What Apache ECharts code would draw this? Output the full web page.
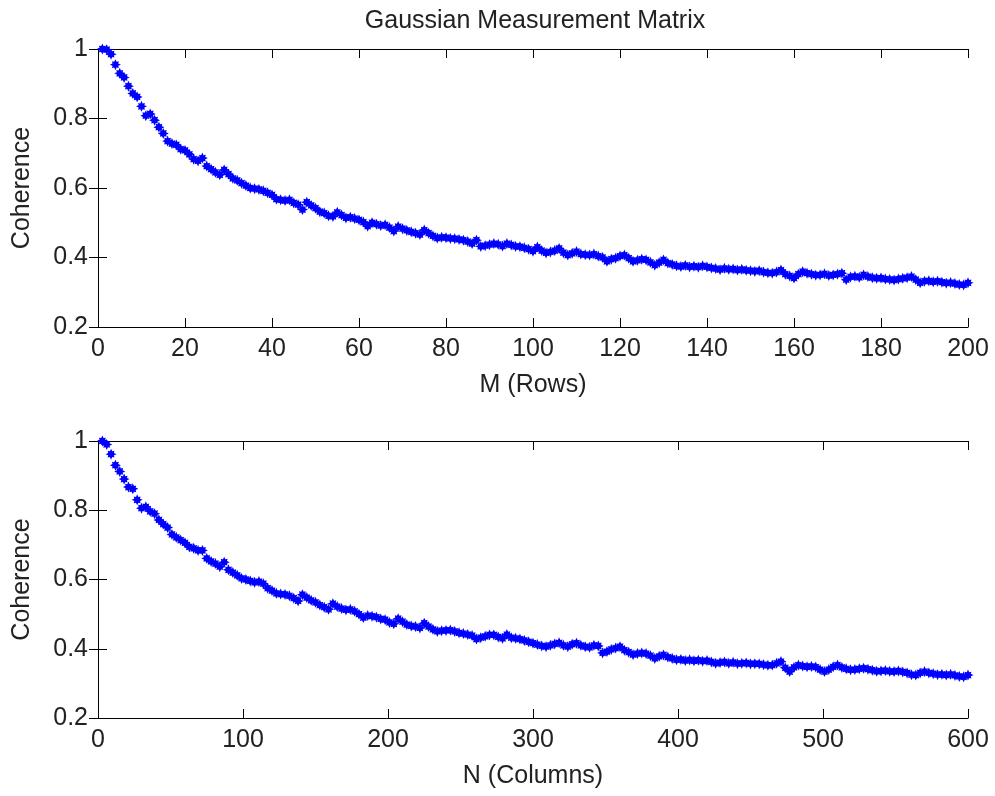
<!DOCTYPE html>
<html>
<head>
<meta charset="utf-8">
<title>Gaussian Measurement Matrix</title>
<script src="https://cdn.jsdelivr.net/npm/echarts@6/dist/echarts.min.js"></script>
<style>
  html, body { margin: 0; padding: 0; background: #fff; }
  #chart { width: 995px; height: 796px; }
</style>
</head>
<body>
<div id="chart"></div>
<script>
// Coherence of a Gaussian measurement matrix versus number of rows (M = 1..200)
const rowsM = Array.from({ length: 200 }, (_, i) => i + 1);
const coherenceRows = [
  1.000, 0.998, 0.985, 0.955, 0.930, 0.918, 0.893, 0.872, 0.862, 0.835,
  0.808, 0.813, 0.795, 0.775, 0.757, 0.735, 0.728, 0.724, 0.712, 0.708,
  0.697, 0.683, 0.678, 0.686, 0.663, 0.654, 0.645, 0.638, 0.652, 0.640,
  0.628, 0.622, 0.614, 0.607, 0.600, 0.598, 0.596, 0.592, 0.586, 0.580,
  0.568, 0.566, 0.564, 0.566, 0.557, 0.552, 0.538, 0.559, 0.550, 0.542,
  0.532, 0.528, 0.520, 0.518, 0.530, 0.522, 0.514, 0.516, 0.512, 0.508,
  0.502, 0.490, 0.500, 0.496, 0.492, 0.494, 0.486, 0.476, 0.489, 0.483,
  0.478, 0.474, 0.470, 0.466, 0.479, 0.470, 0.462, 0.456, 0.458, 0.457,
  0.455, 0.454, 0.452, 0.450, 0.446, 0.440, 0.450, 0.432, 0.434, 0.437,
  0.440, 0.438, 0.433, 0.440, 0.436, 0.432, 0.431, 0.428, 0.424, 0.418,
  0.430, 0.420, 0.413, 0.416, 0.420, 0.426, 0.414, 0.407, 0.412, 0.417,
  0.410, 0.408, 0.407, 0.410, 0.404, 0.400, 0.389, 0.395, 0.398, 0.404,
  0.407, 0.398, 0.389, 0.392, 0.395, 0.393, 0.386, 0.378, 0.385, 0.393,
  0.384, 0.380, 0.376, 0.374, 0.377, 0.373, 0.375, 0.372, 0.376, 0.373,
  0.370, 0.368, 0.365, 0.369, 0.366, 0.367, 0.364, 0.366, 0.363, 0.362,
  0.360, 0.362, 0.358, 0.356, 0.355, 0.358, 0.364, 0.352, 0.347, 0.341,
  0.352, 0.359, 0.355, 0.352, 0.349, 0.350, 0.353, 0.348, 0.350, 0.352,
  0.355, 0.336, 0.344, 0.346, 0.343, 0.350, 0.345, 0.342, 0.340, 0.341,
  0.338, 0.337, 0.335, 0.338, 0.340, 0.342, 0.345, 0.336, 0.327, 0.332,
  0.333, 0.330, 0.332, 0.329, 0.326, 0.328, 0.325, 0.322, 0.321, 0.327
];

// Coherence versus number of columns (N = 3, 6, ..., 600)
const columnsN = Array.from({ length: 200 }, (_, i) => (i + 1) * 3);
const coherenceColumns = [
  1.000, 0.990, 0.962, 0.930, 0.912, 0.890, 0.867, 0.862, 0.830, 0.806,
  0.810, 0.797, 0.790, 0.772, 0.760, 0.750, 0.730, 0.722, 0.714, 0.706,
  0.694, 0.690, 0.684, 0.684, 0.661, 0.652, 0.646, 0.637, 0.650, 0.628,
  0.620, 0.612, 0.603, 0.600, 0.596, 0.592, 0.594, 0.588, 0.575, 0.568,
  0.560, 0.558, 0.557, 0.553, 0.546, 0.538, 0.556, 0.548, 0.540, 0.534,
  0.526, 0.520, 0.514, 0.530, 0.522, 0.516, 0.512, 0.514, 0.508, 0.500,
  0.490, 0.496, 0.494, 0.491, 0.486, 0.484, 0.476, 0.472, 0.487, 0.478,
  0.470, 0.466, 0.464, 0.460, 0.474, 0.464, 0.456, 0.450, 0.452, 0.453,
  0.454, 0.450, 0.446, 0.444, 0.441, 0.438, 0.428, 0.432, 0.436, 0.440,
  0.440, 0.434, 0.430, 0.441, 0.432, 0.430, 0.428, 0.424, 0.420, 0.416,
  0.412, 0.408, 0.406, 0.410, 0.414, 0.417, 0.410, 0.406, 0.413, 0.416,
  0.410, 0.406, 0.404, 0.410, 0.408, 0.388, 0.392, 0.398, 0.402, 0.406,
  0.396, 0.390, 0.383, 0.386, 0.388, 0.386, 0.380, 0.372, 0.378, 0.382,
  0.376, 0.372, 0.368, 0.369, 0.366, 0.368, 0.365, 0.367, 0.364, 0.366,
  0.362, 0.358, 0.360, 0.362, 0.358, 0.361, 0.357, 0.358, 0.359, 0.356,
  0.357, 0.356, 0.354, 0.352, 0.353, 0.358, 0.363, 0.345, 0.334, 0.346,
  0.353, 0.350, 0.348, 0.349, 0.347, 0.340, 0.334, 0.340, 0.348, 0.353,
  0.346, 0.342, 0.339, 0.340, 0.342, 0.344, 0.341, 0.338, 0.335, 0.336,
  0.337, 0.335, 0.334, 0.336, 0.333, 0.330, 0.325, 0.324, 0.330, 0.334,
  0.330, 0.328, 0.325, 0.326, 0.324, 0.326, 0.323, 0.320, 0.319, 0.324
];

const titleText = 'Gaussian Measurement Matrix';
const xNameTop = 'M (Rows)';
const xNameBottom = 'N (Columns)';
const yName = 'Coherence';
const yMin = 0.2, yMax = 1, yStep = 0.2;

const FONT = '"Liberation Sans", Arial, Helvetica, sans-serif';
const TEXT = '#222222';
const FS = 25;

// Chunky filled asterisk marker
const MARKER = 'path://M0,-6 L1.3,-3.14 L3.68,-3.68 L3.14,-1.3 L6,0 L3.14,1.3 L3.68,3.68 L1.3,3.14 L0,6 L-1.3,3.14 L-3.68,3.68 L-3.14,1.3 L-6,0 L-3.14,-1.3 L-3.68,-3.68 L-1.3,-3.14 Z';

const chart = echarts.init(document.getElementById('chart'), null, { renderer: 'canvas' });

function mainX(gridIndex, max, interval, name) {
  return {
    type: 'value', gridIndex, min: 0, max, interval,
    name, nameLocation: 'middle', nameGap: 46,
    nameTextStyle: { fontFamily: FONT, fontSize: FS, color: TEXT },
    axisLine: { show: true, lineStyle: { color: '#000', width: 1 } },
    axisTick: { show: true, inside: true, length: 9, lineStyle: { color: '#000' } },
    axisLabel: { fontFamily: FONT, fontSize: FS, color: TEXT, margin: 10 },
    splitLine: { show: false }
  };
}
function mirrorX(gridIndex, max, interval) {
  return {
    type: 'value', gridIndex, min: 0, max, interval, position: 'top',
    axisLine: { show: true, lineStyle: { color: '#000', width: 1 } },
    axisTick: { show: true, inside: true, length: 9, lineStyle: { color: '#000' } },
    axisLabel: { show: false }, splitLine: { show: false }
  };
}
function mainY(gridIndex) {
  return {
    type: 'value', gridIndex, min: yMin, max: yMax, interval: yStep,
    name: yName, nameLocation: 'middle', nameGap: 63,
    nameTextStyle: { fontFamily: FONT, fontSize: FS, color: TEXT },
    axisLine: { show: true, lineStyle: { color: '#000', width: 1 } },
    axisTick: { show: true, inside: true, length: 9, lineStyle: { color: '#000' } },
    axisLabel: {
      fontFamily: FONT, fontSize: FS, color: TEXT, margin: 10,
      formatter: v => String(Math.round(v * 10) / 10)
    },
    splitLine: { show: false }
  };
}
function mirrorY(gridIndex) {
  return {
    type: 'value', gridIndex, min: yMin, max: yMax, interval: yStep, position: 'right',
    axisLine: { show: true, lineStyle: { color: '#000', width: 1 } },
    axisTick: { show: true, inside: true, length: 9, lineStyle: { color: '#000' } },
    axisLabel: { show: false }, splitLine: { show: false }
  };
}

const markerStyle = { color: '#0000ff', opacity: 1 };

chart.setOption({
  animation: false,
  backgroundColor: '#ffffff',
  title: {
    text: titleText, left: 530, top: 4, textAlign: 'center',
    textStyle: { fontFamily: FONT, fontSize: FS, fontWeight: 'normal', color: TEXT }
  },
  grid: [
    { left: 98, top: 49, width: 870, height: 278 },
    { left: 98, top: 441, width: 870, height: 277 }
  ],
  xAxis: [
    mainX(0, 200, 20, xNameTop),
    mirrorX(0, 200, 20),
    mainX(1, 600, 100, xNameBottom),
    mirrorX(1, 600, 100)
  ],
  yAxis: [mainY(0), mirrorY(0), mainY(1), mirrorY(1)],
  series: [
    {
      type: 'scatter', xAxisIndex: 0, yAxisIndex: 0,
      symbol: MARKER, symbolSize: 11, itemStyle: markerStyle,
      data: rowsM.map((m, i) => [m, coherenceRows[i]])
    },
    {
      type: 'scatter', xAxisIndex: 2, yAxisIndex: 2,
      symbol: MARKER, symbolSize: 11, itemStyle: markerStyle,
      data: columnsN.map((n, i) => [n, coherenceColumns[i]])
    }
  ]
});
</script>
</body>
</html>
